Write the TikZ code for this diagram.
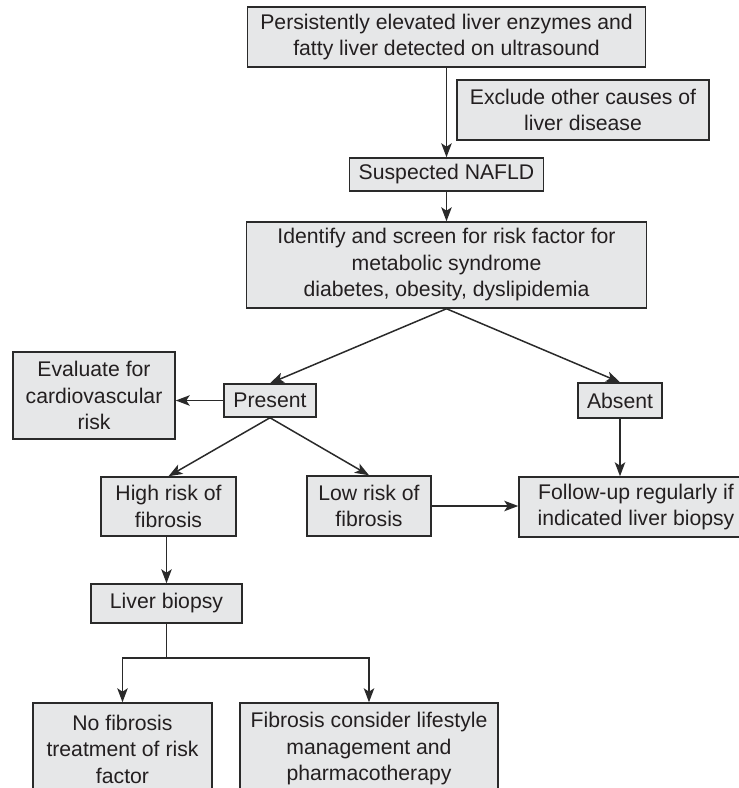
\documentclass[tikz,border=0pt]{standalone}
\usepackage{fontspec}
\setmainfont{Liberation Sans}
\usepackage{tikz}
\usetikzlibrary{arrows.meta, positioning}
\definecolor{boxfill}{HTML}{E6E7E8}
\definecolor{boxline}{HTML}{2A2A2A}
\definecolor{boxtext}{HTML}{231F20}
\newcommand{\flowfont}{\fontsize{21.2}{26.5}\selectfont}
\tikzset{
  flowbox/.style={draw=boxline, fill=boxfill, line width=1.5pt, align=center,
    inner sep=0pt, text=boxtext, font=\flowfont},
  flowarrow/.style={->, draw=boxline, line width=1.5pt}
}

\begin{document}
\begin{tikzpicture}[x=1pt, y=-1pt, >={Stealth[length=14pt, width=10.5pt, inset=3.5pt]}]
    \useasboundingbox (0,0) rectangle (739,788);

    \node[flowbox, minimum width=398pt, minimum height=60pt] (elevated) at (446.5, 37)
      {Persistently elevated liver enzymes and\\fatty liver detected on ultrasound};
    \node[flowbox, minimum width=252pt, minimum height=60pt] (exclude) at (583, 110)
      {Exclude other causes of\\liver disease};
    \node[flowbox, minimum width=194pt, minimum height=33pt] (nafld) at (446.5, 174.5)
      {Suspected NAFLD};
    \node[flowbox, minimum width=400pt, minimum height=86pt] (screen) at (446.5, 265)
      {Identify and screen for risk factor for\\metabolic syndrome\\diabetes, obesity, dyslipidemia};

    \node[flowbox, minimum width=92pt, minimum height=33pt] (present) at (270, 400.5) {Present};
    \node[flowbox, minimum width=84pt, minimum height=35pt] (absent) at (620, 400.5) {Absent};
    \node[flowbox, minimum width=162pt, minimum height=87pt] (cardio) at (94, 395.5)
      {Evaluate for\\cardiovascular\\risk};

    \node[flowbox, minimum width=135pt, minimum height=59pt] (highrisk) at (168.5, 506.5)
      {High risk of\\fibrosis};
    \node[flowbox, minimum width=124pt, minimum height=60pt] (lowrisk) at (369, 506)
      {Low risk of\\fibrosis};
    \node[flowbox, minimum width=234pt, minimum height=60pt] (followup) at (636, 507)
      {Follow-up regularly if\\indicated liver biopsy};

    \node[flowbox, minimum width=151pt, minimum height=39pt] (biopsy) at (166.5, 603.5)
      {Liver biopsy};
    \coordinate (split) at (166.5, 658);
    \node[flowbox, minimum width=179pt, minimum height=92pt] (nofibrosis) at (122.5, 749)
      {No fibrosis\\treatment of risk\\factor};
    \node[flowbox, minimum width=258pt, minimum height=92pt] (fibrosis) at (369, 749)
      {Fibrosis consider lifestyle\\management and\\pharmacotherapy};

    \draw[flowarrow] (elevated) -- (nafld);
    \draw[flowarrow] (nafld) -- (screen);
    \draw[flowarrow] (screen.south) -- (present.north);
    \draw[flowarrow] (screen.south) -- (absent.north);
    \draw[flowarrow] (present.west) -- (present.west -| cardio.east);
    \draw[flowarrow] (present.south) -- (highrisk.north);
    \draw[flowarrow] (present.south) -- (lowrisk.north);
    \draw[flowarrow] (lowrisk.east) -- (lowrisk.east -| followup.west);
    \draw[flowarrow] (absent.south) -- (absent.south |- followup.north);
    \draw[flowarrow] (biopsy.north |- highrisk.south) -- (biopsy.north);
    \draw[flowarrow] (biopsy.south) -- (split) -| (nofibrosis.north);
    \draw[flowarrow] (split) -| (fibrosis.north);
  \end{tikzpicture}
\end{document}
